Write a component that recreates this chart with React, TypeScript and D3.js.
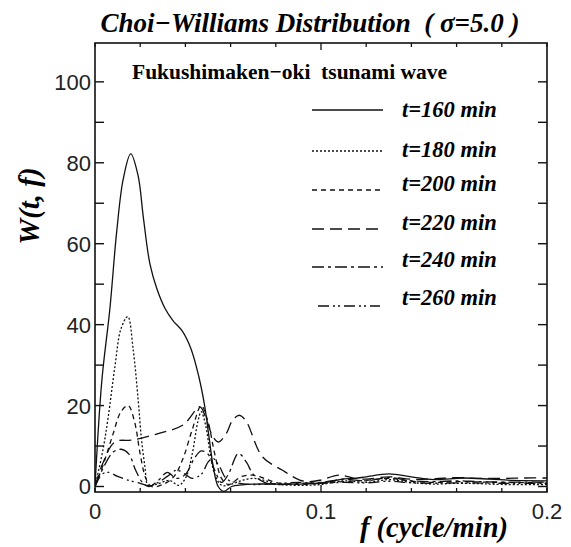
import React from "react";
import * as d3 from "d3";

const title = "Choi\u2212Williams Distribution  ( \u03C3=5.0 )";
const subtitle = "Fukushimaken\u2212oki  tsunami wave";
const xLabel = "f (cycle/min)";
const yLabel = "W(t, f)";
const xTickLabels = [0, 0.1, 0.2];
const yTickLabels = [0, 20, 40, 60, 80, 100];
const seriesNames = ["t=160 min", "t=180 min", "t=200 min", "t=220 min", "t=240 min", "t=260 min"];

const s160: [number, number][] = [[0,0],[0.003,26],[0.0066,44],[0.0096,63],[0.0125,76],[0.0158,82.2],[0.019,77],[0.0215,66],[0.0243,55],[0.0273,49],[0.031,44],[0.0345,41],[0.0385,38.5],[0.0425,34],[0.046,27],[0.0485,20],[0.0505,12],[0.0523,5],[0.0545,0],[0.057,-1.2],[0.0605,0],[0.065,0.4],[0.07,0.6],[0.08,0.6],[0.09,0.6],[0.1,0.9],[0.105,1.3],[0.11,1.9],[0.115,2],[0.12,2.4],[0.13,3.1],[0.14,2.4],[0.15,1.7],[0.163,2.1],[0.175,1.8],[0.185,1.5],[0.2,1.4]];
const s180: [number, number][] = [[0,0],[0.0035,9],[0.0058,17],[0.0088,29.6],[0.0115,39],[0.0145,42],[0.0169,33.8],[0.0191,21.4],[0.0206,11.5],[0.0221,4.9],[0.0235,0.3],[0.027,0.5],[0.033,1.5],[0.037,0.3],[0.04,2],[0.043,8],[0.0455,16],[0.047,18.5],[0.049,15],[0.051,8],[0.053,3],[0.056,0.3],[0.06,0.5],[0.065,1.5],[0.07,2],[0.075,1.5],[0.08,0.6],[0.09,0.3],[0.1,0.5],[0.11,1.4],[0.12,1],[0.13,1.7],[0.14,1],[0.15,0.6],[0.16,0.8],[0.17,0.7],[0.18,0.5],[0.2,0.5]];
const s200: [number, number][] = [[0,0],[0.004,6],[0.008,13],[0.0115,18.5],[0.0147,20],[0.0175,16],[0.02,8],[0.0225,2],[0.025,0],[0.03,0.5],[0.035,2.5],[0.039,7],[0.043,14],[0.047,20],[0.05,16],[0.053,8],[0.056,2],[0.059,0.5],[0.065,2.5],[0.07,2.8],[0.075,2],[0.08,1],[0.09,0.5],[0.1,0.8],[0.11,1.2],[0.12,1.5],[0.13,2],[0.14,1.3],[0.15,1],[0.16,1.2],[0.18,1],[0.2,0.9]];
const s220: [number, number][] = [[0,0],[0.0035,5.8],[0.0088,11],[0.0169,11.5],[0.0287,13.2],[0.039,15.2],[0.0464,19.7],[0.049,17],[0.052,12.5],[0.0545,11],[0.058,13],[0.061,16.5],[0.064,17.6],[0.067,16],[0.074,7.4],[0.083,4],[0.0906,1.6],[0.095,1.2],[0.1,1.6],[0.108,2.8],[0.115,2],[0.12,1.8],[0.13,2.4],[0.14,1.8],[0.15,1.9],[0.16,2.2],[0.17,2],[0.18,2],[0.19,2.1],[0.2,2.1]];
const s240: [number, number][] = [[0,0],[0.004,5],[0.008,8.5],[0.0115,9.2],[0.015,8],[0.018,4],[0.021,1],[0.024,0],[0.028,1.5],[0.032,3.5],[0.036,2],[0.04,3],[0.044,7],[0.047,8.8],[0.05,8],[0.053,4],[0.056,1],[0.059,3],[0.0635,8.2],[0.067,6],[0.07,3],[0.075,1],[0.08,0.5],[0.09,0.8],[0.1,1],[0.11,1.8],[0.12,1.4],[0.13,2.2],[0.14,1.4],[0.15,1.2],[0.16,1.4],[0.17,1.2],[0.18,1.1],[0.2,1.1]];
const s260: [number, number][] = [[0,0],[0.003,3],[0.006,3.5],[0.01,2.5],[0.015,1.5],[0.02,0.8],[0.024,0.2],[0.028,1],[0.032,2.5],[0.036,4],[0.04,3],[0.043,2],[0.047,3],[0.05,6],[0.052,7],[0.055,5],[0.058,2],[0.062,1],[0.07,0.5],[0.08,0.7],[0.09,1],[0.1,0.8],[0.11,1],[0.12,0.9],[0.13,1.3],[0.14,0.9],[0.15,0.8],[0.16,0.9],[0.18,0.8],[0.2,0.8]];

const seriesData = [s160, s180, s200, s220, s240, s260];
const dashes = ["", "2,2", "5,4", "12,6", "12,4,3,4", "11,4,2,3,2,4"];

const W = 571, H = 547;
const L = 95, R = 547, T = 43, B = 492;

export default function App() {
  const x = d3.scaleLinear().domain([0, 0.2]).range([L, R]);
  const y = d3.scaleLinear().domain([-1.36, 109.6]).range([B, T]);
  const line = d3.line<[number, number]>().x(d => x(d[0])).y(d => y(d[1])).curve(d3.curveCatmullRom.alpha(0.5));
  const xMinor = d3.range(0, 0.2001, 0.02);
  const yMinor = d3.range(0, 101, 10);
  const serif = "'Liberation Serif', 'Times New Roman', serif";
  const sans = "'Liberation Sans', Arial, sans-serif";
  const legendLineY = [110, 151, 190, 229, 267, 306];
  const legendTextY = [117, 157, 191, 230, 267, 305];
  const pre = { whiteSpace: "pre" as const };
  return (
    <svg width={W} height={H} style={{ position: "absolute", left: 0, top: 0, background: "#fff" }}>
      <defs>
        <clipPath id="pc"><rect x={L} y={T} width={R - L} height={B - T} /></clipPath>
      </defs>
      <text x={310} y={32} textAnchor="middle" style={pre} fontFamily={serif} fontWeight="bold" fontStyle="italic" fontSize={27}>{title}</text>
      <g clipPath="url(#pc)" fill="none" stroke="#111" strokeWidth={1.3}>
        {seriesData.map((s, i) => (
          <path key={i} d={line(s) || ""} strokeDasharray={dashes[i] || undefined} />
        ))}
      </g>
      <rect x={L} y={T} width={R - L} height={B - T} fill="none" stroke="#111" strokeWidth={1.6} />
      {yMinor.map(v => (
        <g key={v} stroke="#111" strokeWidth={1.4}>
          <line x1={L} x2={L + 9} y1={y(v)} y2={y(v)} />
          <line x1={R} x2={R - 9} y1={y(v)} y2={y(v)} />
        </g>
      ))}
      {xMinor.map((v, i) => {
        const len = Math.abs(v - 0.1) < 1e-9 ? 7 : 4;
        return (
          <g key={i} stroke="#111" strokeWidth={1.3}>
            <line x1={x(v)} x2={x(v)} y1={B} y2={B - len} />
            <line x1={x(v)} x2={x(v)} y1={T} y2={T + len} />
          </g>
        );
      })}
      {yTickLabels.map(v => (
        <text key={v} x={L - 4} y={y(v) + 8} textAnchor="end" fontFamily={sans} fontSize={22} fill="#222">{v}</text>
      ))}
      {xTickLabels.map(v => (
        <text key={v} x={x(v)} y={519} textAnchor="middle" fontFamily={sans} fontSize={22} fill="#222">{v}</text>
      ))}
      <text x={434} y={537} textAnchor="middle" fontFamily={serif} fontWeight="bold" fontStyle="italic" fontSize={28.5}>{xLabel}</text>
      <text transform={`translate(39,206) rotate(-90)`} textAnchor="middle" fontFamily={serif} fontWeight="bold" fontStyle="italic" fontSize={29}>{yLabel}</text>
      <text x={132} y={79} style={pre} fontFamily={serif} fontWeight="bold" fontSize={21.5}>{subtitle}</text>
      {seriesNames.map((n, i) => (
        <g key={n}>
          <line x1={i === 5 ? 318 : 312} x2={i === 5 ? 380 : 383} y1={legendLineY[i]} y2={legendLineY[i]} stroke="#111" strokeWidth={1.3} strokeDasharray={dashes[i] || undefined} />
          <text x={402} y={legendTextY[i]} fontFamily={serif} fontWeight="bold" fontStyle="italic" fontSize={22.5}>{n}</text>
        </g>
      ))}
    </svg>
  );
}
